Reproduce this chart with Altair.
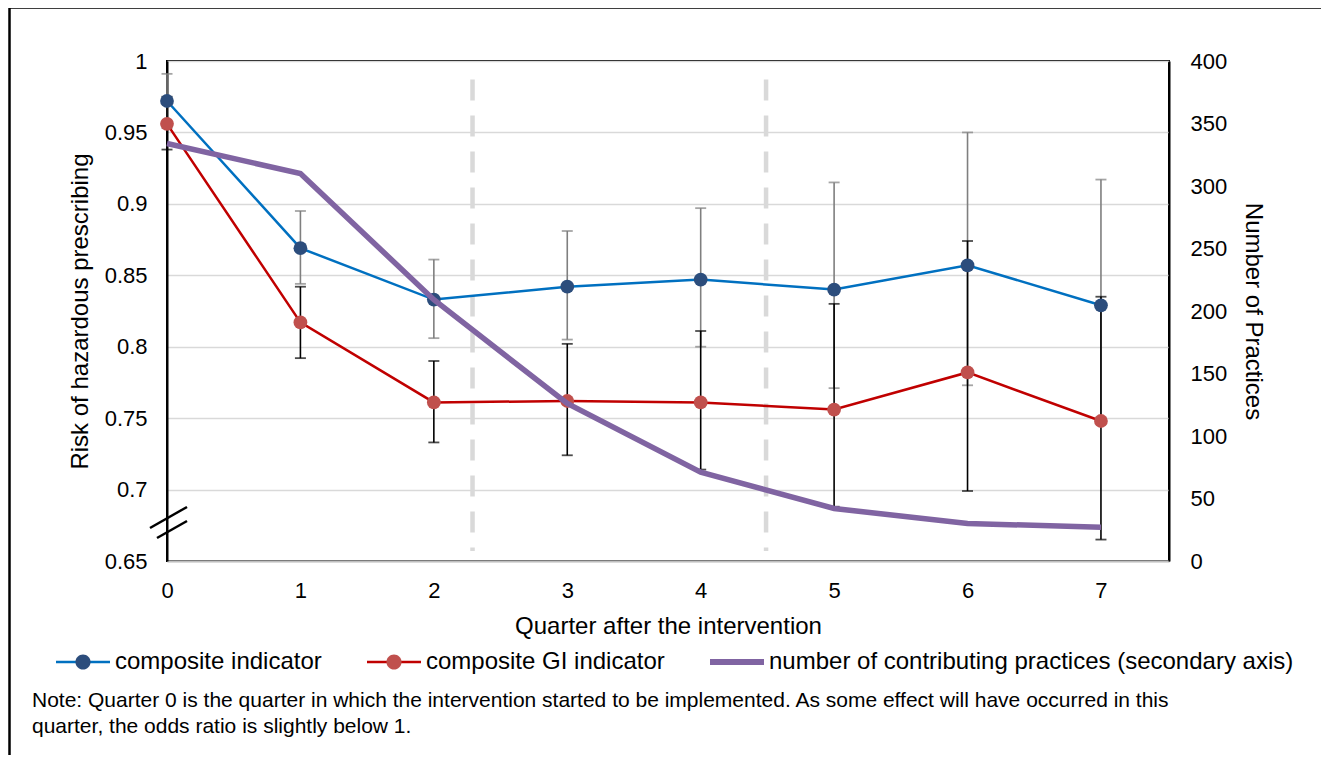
import altair as alt
import pandas as pd

# ---------------- data ----------------
quarters = [0, 1, 2, 3, 4, 5, 6, 7]
composite = [0.972, 0.869, 0.833, 0.842, 0.847, 0.840, 0.857, 0.829]
composite_lo = [0.953, 0.844, 0.806, 0.805, 0.800, 0.771, 0.773, 0.750]
composite_hi = [0.991, 0.895, 0.861, 0.881, 0.897, 0.915, 0.950, 0.917]
gi = [0.956, 0.817, 0.761, 0.762, 0.761, 0.756, 0.782, 0.748]
gi_lo = [0.938, 0.792, 0.733, 0.724, 0.714, 0.688, 0.699, 0.665]
gi_hi = [0.975, 0.842, 0.790, 0.802, 0.811, 0.830, 0.874, 0.835]
practices = [334, 310, 209, 126, 71, 42, 30, 27]
phase_breaks = [2.29, 4.49]
phase_span = [0.987, 0.657]
left_ticks = [0.65, 0.7, 0.75, 0.8, 0.85, 0.9, 0.95, 1.0]
right_ticks = [0, 50, 100, 150, 200, 250, 300, 350, 400]
series_names = [
    "composite indicator",
    "composite GI indicator",
    "number of contributing practices (secondary axis)",
]
note_lines = [
    "Note: Quarter 0 is the quarter in which the intervention started to be implemented. As some effect will have occurred in this",
    "quarter, the odds ratio is slightly below 1.",
]

FONT = "Liberation Sans"
BLUE_LINE = "#0070C0"
BLUE_DOT = "#2C4D7C"
RED_LINE = "#C00000"
RED_DOT = "#C0504D"
PURPLE = "#8064A2"

comp_df = pd.DataFrame({"quarter": quarters, "value": composite,
                        "lo": composite_lo, "hi": composite_hi})
gi_df = pd.DataFrame({"quarter": quarters, "value": gi, "lo": gi_lo, "hi": gi_hi})
prac_df = pd.DataFrame({"quarter": quarters, "practices": practices})
phase_df = pd.DataFrame({"quarter": phase_breaks,
                         "top": [phase_span[0]] * len(phase_breaks),
                         "bottom": [phase_span[1]] * len(phase_breaks)})

x_scale = alt.Scale(domain=[0, 7.51], nice=False, zero=False)
x_axis = alt.Axis(values=quarters, title="Quarter after the intervention",
                  labelFont=FONT, labelFontSize=22, labelColor="black",
                  labelPadding=19, labelFlush=False, ticks=False, grid=False,
                  domainColor="#BFBFBF", domainWidth=2,
                  titleFont=FONT, titleFontSize=24, titleFontWeight="normal",
                  titleColor="black", titlePadding=13)
X = alt.X("quarter:Q", scale=x_scale, axis=x_axis)

y_scale = alt.Scale(domain=[0.65, 1.0], nice=False, zero=False)
y_axis = alt.Axis(values=left_ticks, format=".2~f", title="Risk of hazardous prescribing",
                  labelFont=FONT, labelFontSize=22, labelColor="black",
                  labelPadding=20, labelFlush=False, ticks=False, grid=True,
                  gridColor="#D9D9D9", gridWidth=1.5, domainColor="black", domainWidth=2,
                  titleFont=FONT, titleFontSize=24, titleFontWeight="normal",
                  titleColor="black", titlePadding=12)

def Yv(field):
    return alt.Y(f"{field}:Q", scale=y_scale, axis=y_axis)

phase = alt.Chart(phase_df).mark_rule(color="#D9D9D9", strokeWidth=4.5,
                                       strokeDash=[21, 15]).encode(
    x=X, y=Yv("top"), y2="bottom")

def errbars(df, color):
    whisk = alt.Chart(df).mark_rule(color=color, strokeWidth=1.6).encode(
        x=X, y=Yv("lo"), y2="hi")
    cap_lo = alt.Chart(df).mark_tick(color=color, orient="horizontal",
                                     size=11, thickness=1.8).encode(x=X, y=Yv("lo"))
    cap_hi = alt.Chart(df).mark_tick(color=color, orient="horizontal",
                                     size=11, thickness=1.8).encode(x=X, y=Yv("hi"))
    return [whisk, cap_lo, cap_hi]

comp_line = alt.Chart(comp_df).mark_line(color=BLUE_LINE, strokeWidth=2.5).encode(
    x=X, y=Yv("value"))
gi_line = alt.Chart(gi_df).mark_line(color=RED_LINE, strokeWidth=2.5).encode(
    x=X, y=Yv("value"))
comp_pts = alt.Chart(comp_df).mark_point(filled=True, opacity=1, color=BLUE_DOT,
                                         size=190).encode(x=X, y=Yv("value"))
gi_pts = alt.Chart(gi_df).mark_point(filled=True, opacity=1, color=RED_DOT,
                                     size=190).encode(x=X, y=Yv("value"))

left = alt.layer(phase, *errbars(comp_df, "#7F7F7F"), *errbars(gi_df, "black"),
                 comp_line, gi_line, comp_pts, gi_pts)

prac_line = alt.Chart(prac_df).mark_line(color=PURPLE, strokeWidth=5.5).encode(
    x=X,
    y=alt.Y("practices:Q", scale=alt.Scale(domain=[0, 400], nice=False),
            axis=alt.Axis(orient="right", values=right_ticks, format="d",
                          title="Number of Practices",
                          labelFont=FONT, labelFontSize=22, labelColor="black",
                          labelPadding=21, labelFlush=False, ticks=False, grid=False,
                          domainColor="black", domainWidth=2,
                          titleFont=FONT, titleFontSize=24, titleFontWeight="normal",
                          titleColor="black", titlePadding=14)))

# ---------------- legend (two overlaid legends: lines, then dots) ----------------
legend_df = pd.DataFrame({"series": series_names, "series_dot": series_names})
line_paths = ["M-1,-0.046H1V0.046H-1Z", "M-1,-0.046H1V0.046H-1Z", "M-1,-0.11H1V0.11H-1Z"]
circle = "M-0.28,0A0.28,0.28 0 1,1 0.28,0A0.28,0.28 0 1,1 -0.28,0Z"
dot_paths = [circle, circle, "M0,0A0.001,0.001 0 1,1 0.001,0Z"]

SYM = 2916
leg_common = dict(orient="none", legendX=-111, legendY=574, direction="horizontal",
                  title=None, symbolStrokeWidth=0, symbolOpacity=1, symbolSize=SYM,
                  labelFont=FONT, labelFontSize=24, labelColor="black",
                  labelOffset=5, columnPadding=45, labelLimit=1000, padding=0)

# the legend-carrying points are placed far outside the canvas; only their legends show
leg_lines = alt.Chart(legend_df).mark_point(filled=True, opacity=1, size=SYM).encode(
    x=alt.value(-5000), y=alt.value(-5000),
    color=alt.Color("series:N", sort=series_names,
                    scale=alt.Scale(domain=series_names,
                                    range=[BLUE_LINE, RED_LINE, PURPLE]),
                    legend=alt.Legend(**leg_common)),
    shape=alt.Shape("series:N", sort=series_names,
                    scale=alt.Scale(domain=series_names, range=line_paths)))

leg_dots = alt.Chart(legend_df).mark_point(filled=True, opacity=1, size=SYM).encode(
    x=alt.value(-5000), y=alt.value(-5000),
    color=alt.Color("series_dot:N", sort=series_names,
                    scale=alt.Scale(domain=series_names,
                                    range=[BLUE_DOT, RED_DOT, PURPLE]),
                    legend=alt.Legend(labelOpacity=0, **leg_common)),
    shape=alt.Shape("series_dot:N", sort=series_names,
                    scale=alt.Scale(domain=series_names, range=dot_paths)))

# ---------------- decorations ----------------
one = pd.DataFrame({"a": [0]})
frame = alt.Chart(one).mark_rect(filled=False, stroke="black", strokeWidth=2.5).encode(
    x=alt.value(-157.5), x2=alt.value(1158), y=alt.value(-53.5), y2=alt.value(740))
brk1 = alt.Chart(one).mark_rule(color="black", strokeWidth=2.5).encode(
    x=alt.value(-17), x2=alt.value(20), y=alt.value(467), y2=alt.value(446))
brk2 = alt.Chart(one).mark_rule(color="black", strokeWidth=2.5).encode(
    x=alt.value(-10), x2=alt.value(20), y=alt.value(477), y2=alt.value(460))

note_df1 = pd.DataFrame({"t": [note_lines[0]]})
note_df2 = pd.DataFrame({"t": [note_lines[1]]})
note1 = alt.Chart(note_df1).mark_text(align="left", baseline="middle", font=FONT,
                                      fontSize=21, color="black").encode(
    x=alt.value(-135), y=alt.value(640), text="t:N")
note2 = alt.Chart(note_df2).mark_text(align="left", baseline="middle", font=FONT,
                                      fontSize=21, color="black").encode(
    x=alt.value(-135), y=alt.value(666), text="t:N")

chart = alt.layer(
    left, prac_line, brk1, brk2, leg_lines, leg_dots, note1, note2, frame
).resolve_scale(
    y="independent", color="independent", shape="independent"
).properties(
    width=1002, height=500,
    padding={"left": 159, "top": 53, "right": 152, "bottom": 194},
    autosize=alt.AutoSizeParams(type="none"),
    background="white",
).configure_view(stroke="black", strokeWidth=2)

chart.save("out.html", embed_options={"renderer": "svg", "actions": False})
